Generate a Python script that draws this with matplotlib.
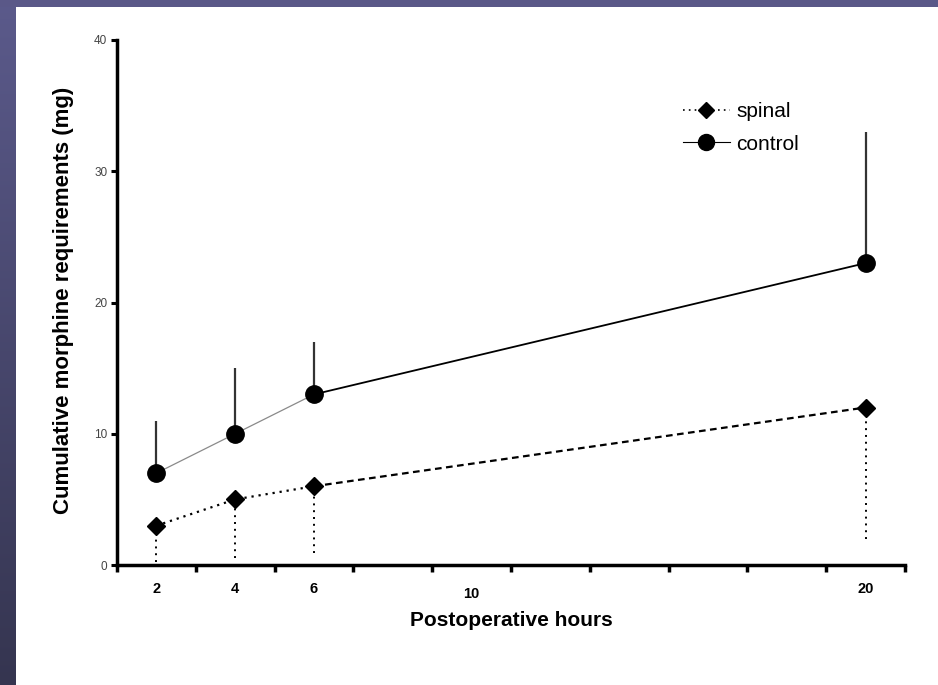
import numpy as np
import matplotlib
matplotlib.use("Agg")
import matplotlib.pyplot as plt
from matplotlib.patches import Rectangle
from matplotlib.lines import Line2D

# cumulative morphine use (mg) after surgery
hours = [2, 4, 6, 20]
control_mean = [7, 10, 13, 23]
control_sd = [4, 5, 4, 10]
spinal_mean = [3, 5, 6, 12]
spinal_sd = [2.75, 4.5, 5.1, 10]

hour_labels = ["2", "4", "6", "10", "20"]
hour_label_pos = [2, 4, 6, 10, 20]

plt.rcParams['font.family'] = ['Liberation Sans', 'DejaVu Sans']

fig = plt.figure(figsize=(9.38, 6.85), dpi=100, facecolor="white")

# slide frame: flat strip on top, shaded strip down the left side
fig.patches.append(Rectangle((0, 1 - 7 / 685), 1, 7 / 685, transform=fig.transFigure,
                             facecolor="#5a5888", edgecolor="none", zorder=0))
side = fig.add_axes([0, 0, 15 / 938, 1])
grad = np.linspace(0, 1, 256).reshape(-1, 1)
cmap = matplotlib.colors.LinearSegmentedColormap.from_list("frame", ["#5b5a8b", "#353550"])
side.imshow(grad, aspect="auto", cmap=cmap, extent=[0, 1, 0, 1], origin="upper")
side.axis("off")

ax = fig.add_axes([117 / 938, 1 - 565 / 685, (905 - 117) / 938, (565 - 40) / 685])
ax.set_facecolor("white")

# control: thin grey segment through the early hours, black after 6 h
ax.plot(hours[:3], control_mean[:3], color="#8a8a8a", lw=0.9, zorder=2)
ax.plot(hours[2:], control_mean[2:], color="black", lw=1.3, zorder=2)
ax.vlines(hours, control_mean, np.add(control_mean, control_sd),
          colors="#333333", lw=1.6, zorder=1)
ax.plot(hours, control_mean, "o", color="black", ms=12.5, zorder=3)

# spinal: dotted early, dashed later, sd drawn downward
ax.plot(hours[:3], spinal_mean[:3], color="black", lw=1.6,
        linestyle=(0, (1, 2.2)), zorder=2)
ax.plot(hours[2:], spinal_mean[2:], color="black", lw=1.6,
        linestyle=(0, (3, 2)), zorder=2)
ax.vlines(hours, np.subtract(spinal_mean, spinal_sd), spinal_mean,
          colors="black", lw=1.4, linestyles=[(0, (1, 2.5))], zorder=1)
ax.plot(hours, spinal_mean, "D", color="black", ms=9.5, zorder=3)

ax.set_xlim(1, 21)
ax.set_ylim(0, 40)

for s in ["top", "right"]:
    ax.spines[s].set_visible(False)
for s in ["left", "bottom"]:
    ax.spines[s].set_linewidth(2.5)

ax.set_yticks([0, 10, 20, 30, 40])
ax.tick_params(axis="y", direction="out", length=4, width=2.2, pad=3,
               labelsize=8.5, labelcolor="#444444")

ax.set_xticks(np.arange(1, 22, 2), minor=True)
ax.set_xticks(hour_label_pos)
ax.set_xticklabels(hour_labels, fontweight="bold")
ax.tick_params(axis="x", which="major", length=0, pad=12, labelsize=10.5)
ax.tick_params(axis="x", which="minor", direction="out", length=5, width=2.5)
# the "10" label sits a little lower than the others
ax.xaxis.get_major_ticks()[3].set_pad(16)

ax.set_xlabel("Postoperative hours", fontsize=15, fontweight="bold")
ax.xaxis.set_label_coords(0.5, -0.087)
ax.set_ylabel("Cumulative morphine requirements (mg)", fontsize=16, fontweight="bold")
ax.yaxis.set_label_coords(-0.054, 0.505)

handles = [
    Line2D([], [], color="black", lw=1.2, linestyle=(0, (1, 2.5)), marker="D", ms=8.5),
    Line2D([], [], color="black", lw=0.8, marker="o", ms=11.5),
]
ax.legend(handles, ["spinal", "control"], loc="upper left",
          bbox_to_anchor=(683 / 938, 1 - 102 / 685), bbox_transform=fig.transFigure,
          frameon=False, fontsize=15, handlelength=2.25, handletextpad=0.3,
          labelspacing=0.65, borderpad=0, borderaxespad=0)

fig.savefig("out.png", dpi=100, facecolor="white")
